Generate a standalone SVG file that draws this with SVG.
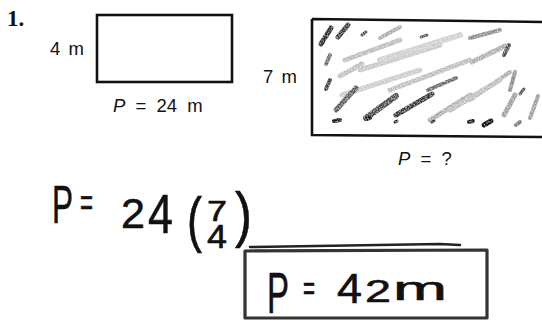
<svg xmlns="http://www.w3.org/2000/svg" width="542" height="325" viewBox="0 0 542 325">
  <defs>
    <filter id="grain" x="-10%" y="-10%" width="120%" height="120%">
      <feTurbulence type="fractalNoise" baseFrequency="0.7" numOctaves="2" seed="5" result="n"/>
      <feColorMatrix in="n" type="matrix" values="0 0 0 0 0  0 0 0 0 0  0 0 0 0 0  0 0 0 1.6 0" result="a"/>
      <feComposite in="SourceGraphic" in2="a" operator="in"/>
    </filter>
  </defs>
  <style>
    .lbl { font-family: "Liberation Sans", Arial, sans-serif; font-size: 18.5px; fill: #111; }
    .hw { font-family: "Liberation Sans", Arial, sans-serif; fill: #111; stroke: #111; stroke-width: 0.6; stroke-linejoin: round; }
    .shape { fill: none; stroke: #111; stroke-width: 2.6; }
    .sc { fill: none; stroke-linecap: round; }
  </style>
  <rect width="542" height="325" fill="#fff"/>
  <text id="num" x="7" y="26" font-family="Liberation Serif, serif" font-weight="bold" font-size="23" fill="#111">1.</text>

  <g id="rect-small">
    <rect class="shape" x="97" y="15" width="135" height="67"/>
    <text class="lbl" x="50" y="55" style="word-spacing:3px">4 m</text>
    <text class="lbl" x="113" y="112" style="word-spacing:5px"><tspan font-style="italic">P</tspan> = 24 m</text>
  </g>

  <g id="rect-large">
    <g id="shading" filter="url(#grain)">
      <path class="sc" stroke="#222" stroke-width="5" d="M321,44 L331,28"/>
      <path class="sc" stroke="#333" stroke-width="5" d="M338,37 L348,25"/>
      <path class="sc" stroke="#444" stroke-width="3" d="M362,35 L366,32"/>
      <path class="sc" stroke="#aaa" stroke-width="4" d="M380,38 L400,27"/>
      <path class="sc" stroke="#555" stroke-width="3" d="M421,37 L427,35"/>
      <path class="sc" stroke="#bbb" stroke-width="5" d="M345,60 L400,40"/>
      <path class="sc" stroke="#c4c4c4" stroke-width="5" d="M360,70 L440,45"/>
      <path class="sc" stroke="#888" stroke-width="4" d="M470,38 L500,30"/>
      <path class="sc" stroke="#666" stroke-width="4" d="M326,64 L330,55"/>
      <path class="sc" stroke="#333" stroke-width="4" d="M326,89 L330,80"/>
      <path class="sc" stroke="#bbb" stroke-width="5" d="M340,76 L362,64"/>
      <path class="sc" stroke="#c8c8c8" stroke-width="5" d="M342,95 L420,70"/>
      <path class="sc" stroke="#bbb" stroke-width="5" d="M390,90 L470,60"/>
      <path class="sc" stroke="#aaa" stroke-width="5" d="M472,62 L505,46"/>
      <path class="sc" stroke="#444" stroke-width="4" d="M504,55 L509,45"/>
      <path class="sc" stroke="#555" stroke-width="5" d="M336,110 L356,88"/>
      <path class="sc" stroke="#444" stroke-width="6" d="M366,118 L396,96"/>
      <path class="sc" stroke="#333" stroke-width="5" d="M396,115 L432,94"/>
      <path class="sc" stroke="#666" stroke-width="4" d="M428,90 L456,78"/>
      <path class="sc" stroke="#aaa" stroke-width="5" d="M430,120 L470,95"/>
      <path class="sc" stroke="#aaa" stroke-width="4" d="M470,100 L510,72"/>
      <path class="sc" stroke="#999" stroke-width="5" d="M504,115 L515,95"/>
      <path class="sc" stroke="#888" stroke-width="4" d="M510,90 L515,72"/>
      <path class="sc" stroke="#444" stroke-width="3" d="M520,94 L524,89"/>
      <path class="sc" stroke="#999" stroke-width="4" d="M530,118 L538,96"/>
      <path class="sc" stroke="#bbb" stroke-width="5" d="M450,110 L500,80"/>
      <path class="sc" stroke="#ccc" stroke-width="6" d="M380,60 L460,35"/>
      <path class="sc" stroke="#111" stroke-width="4" d="M334,121 L340,120"/>
      <path class="sc" stroke="#111" stroke-width="4" d="M366,119 L370,118"/>
      <path class="sc" stroke="#111" stroke-width="3" d="M395,122 L397,121"/>
      <path class="sc" stroke="#333" stroke-width="3" d="M432,122 L434,121"/>
      <path class="sc" stroke="#111" stroke-width="4" d="M469,122 L473,121"/>
      <path class="sc" stroke="#000" stroke-width="5" d="M484,125 L491,121"/>
      <path class="sc" stroke="#777" stroke-width="4" d="M516,125 L520,122"/>
    </g>
    <path class="shape" stroke-width="3.2" d="M312,19 L545,22 M312,19 L312,135 L545,137"/>
    <text class="lbl" x="263" y="83" style="word-spacing:3px">7 m</text>
    <text class="lbl" x="398" y="165" style="word-spacing:5px"><tspan font-style="italic">P</tspan> = ?</text>
  </g>

  <g id="work">
    <text class="hw" x="52" y="223" font-size="54" textLength="21" lengthAdjust="spacingAndGlyphs">P</text>
    <text class="hw" x="80" y="216" font-size="38" textLength="13" lengthAdjust="spacingAndGlyphs">=</text>
    <text class="hw" x="121" y="228" font-size="43" textLength="24" lengthAdjust="spacingAndGlyphs">2</text>
    <text class="hw" x="148" y="233" font-size="56" textLength="25" lengthAdjust="spacingAndGlyphs">4</text>
    <text class="hw" x="187" y="240" font-size="62" textLength="15" lengthAdjust="spacingAndGlyphs">(</text>
    <text class="hw" x="207" y="221" font-size="30" textLength="20" lengthAdjust="spacingAndGlyphs">7</text>
    <text class="hw" x="207" y="248" font-size="34" textLength="20" lengthAdjust="spacingAndGlyphs">4</text>
    <text class="hw" x="235" y="235" font-size="62" textLength="17" lengthAdjust="spacingAndGlyphs">)</text>
  </g>

  <g id="answer">
    <path fill="none" stroke="#333" stroke-width="3.2" stroke-linejoin="round" d="M245,251 L487,250 L487,318 L245,318 Z"/>
    <path fill="none" stroke="#222" stroke-width="2.6" stroke-linecap="round" d="M250,247 L440,244 L460,245"/>
    <text class="hw" x="267" y="313" font-size="58" textLength="22" lengthAdjust="spacingAndGlyphs" stroke-width="1">P</text>
    <text class="hw" x="303" y="300" font-size="34" textLength="12" lengthAdjust="spacingAndGlyphs" stroke-width="2">=</text>
    <text class="hw" x="337" y="303" font-size="43" textLength="25" lengthAdjust="spacingAndGlyphs" stroke-width="1">4</text>
    <text class="hw" x="365" y="302" font-size="31" textLength="26" lengthAdjust="spacingAndGlyphs" stroke-width="1">2</text>
    <text class="hw" x="393" y="300" font-size="33" textLength="54" lengthAdjust="spacingAndGlyphs" stroke-width="0.6">m</text>
  </g>
</svg>
